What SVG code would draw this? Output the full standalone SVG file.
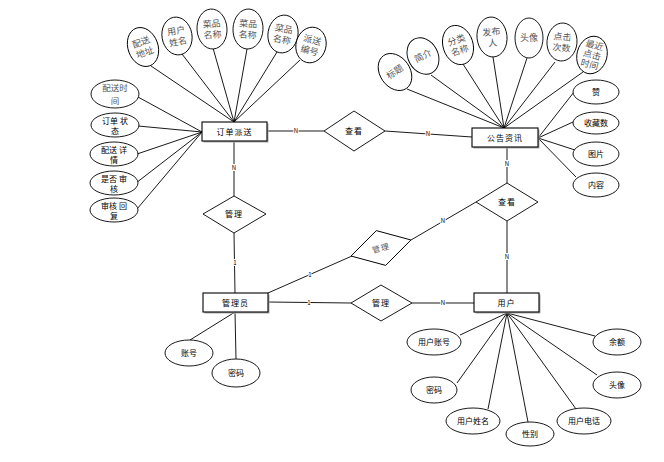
<svg xmlns="http://www.w3.org/2000/svg" width="664" height="462" viewBox="0 0 664 462">
<style>
text{font-family:"Noto Sans CJK SC","Liberation Sans",sans-serif;text-anchor:middle;fill:#000}
.ent rect.box{fill:#fff;stroke:#000;stroke-width:1.1}
.ent rect.sh{fill:#aaa;stroke:none}
.ent text{font-size:8px;letter-spacing:1px}
.attr ellipse,.rel polygon{fill:#fff;stroke:#000;stroke-width:0.9}
.attr text{font-size:8px}
.tall text{font-size:9px;fill:#555}
.grey{fill:#555}
.rel text{font-size:8px;letter-spacing:1px}
#connectors line{stroke:#000;stroke-width:0.9}
.card{font-size:6px;stroke:#fff;stroke-width:2px;paint-order:stroke;fill:#000}
</style>
<rect width="664" height="462" fill="#fff"/>
<g id="connectors">
<line x1="234" y1="122" x2="151" y2="66"/>
<line x1="234" y1="122" x2="182" y2="54"/>
<line x1="234" y1="122" x2="213" y2="48"/>
<line x1="234" y1="122" x2="247" y2="49"/>
<line x1="234" y1="122" x2="277" y2="52"/>
<line x1="234" y1="122" x2="300" y2="60"/>
<line x1="202" y1="132" x2="138" y2="97"/>
<line x1="202" y1="132" x2="138" y2="126"/>
<line x1="202" y1="132" x2="137" y2="154"/>
<line x1="202" y1="132" x2="136" y2="183"/>
<line x1="202" y1="132" x2="137" y2="209"/>
<line x1="504" y1="128" x2="407" y2="89"/>
<line x1="504" y1="128" x2="431" y2="75"/>
<line x1="504" y1="128" x2="463" y2="64"/>
<line x1="504" y1="128" x2="493" y2="57"/>
<line x1="504" y1="128" x2="527" y2="58"/>
<line x1="504" y1="128" x2="555" y2="62"/>
<line x1="504" y1="128" x2="583" y2="72"/>
<line x1="538" y1="138" x2="574" y2="92"/>
<line x1="538" y1="138" x2="573" y2="122"/>
<line x1="538" y1="138" x2="575" y2="150"/>
<line x1="538" y1="138" x2="576" y2="177"/>
<line x1="235" y1="312" x2="190" y2="340"/>
<line x1="235" y1="312" x2="236" y2="359"/>
<line x1="507" y1="313" x2="460" y2="335"/>
<line x1="507" y1="313" x2="457" y2="383"/>
<line x1="507" y1="313" x2="488" y2="409"/>
<line x1="507" y1="313" x2="528" y2="422"/>
<line x1="507" y1="313" x2="576" y2="409"/>
<line x1="507" y1="313" x2="595" y2="336"/>
<line x1="507" y1="313" x2="597" y2="375"/>
<line x1="267" y1="131" x2="324" y2="131"/>
<line x1="385" y1="131" x2="472" y2="137"/>
<line x1="234" y1="141" x2="234" y2="196"/>
<line x1="234" y1="233" x2="235" y2="293"/>
<line x1="507" y1="147" x2="507" y2="183"/>
<line x1="507" y1="221" x2="507" y2="293"/>
<line x1="268" y1="293" x2="352" y2="256"/>
<line x1="411" y1="240" x2="476" y2="202"/>
<line x1="268" y1="302" x2="351" y2="303"/>
<line x1="412" y1="303" x2="474" y2="303"/>
<text class="card" x="296" y="133">N</text>
<text class="card" x="428" y="136">N</text>
<text class="card" x="234" y="170">N</text>
<text class="card" x="235" y="265">1</text>
<text class="card" x="507" y="166">N</text>
<text class="card" x="507" y="259">N</text>
<text class="card" x="310" y="277">1</text>
<text class="card" x="443" y="223">N</text>
<text class="card" x="309" y="305">1</text>
<text class="card" x="443" y="305">N</text>
</g>
<g id="order" class="ent"><rect class="sh" x="203.5" y="123.5" width="65" height="19"/><rect class="box" x="202" y="122" width="65" height="19"/><text x="234.5" y="134.5">订单派送</text></g>
<g id="notice" class="ent"><rect class="sh" x="473.5" y="129.5" width="66" height="19"/><rect class="box" x="472" y="128" width="66" height="19"/><text x="505" y="140.5">公告资讯</text></g>
<g id="admin" class="ent"><rect class="sh" x="204.5" y="294.5" width="65" height="19"/><rect class="box" x="203" y="293" width="65" height="19"/><text x="235.5" y="305.5">管理员</text></g>
<g id="user" class="ent"><rect class="sh" x="475.5" y="294.5" width="65" height="19"/><rect class="box" x="474" y="293" width="65" height="19"/><text x="506.5" y="305.5">用户</text></g>
<g id="rel-view1" class="rel"><polygon points="354,111 385,131 354,151 324,131"/><text x="354" y="134">查看</text></g>
<g id="rel-manage1" class="rel"><polygon points="234,196 266,214 234,233 203,214"/><text x="234" y="217">管理</text></g>
<g id="rel-view2" class="rel"><polygon points="507,183 538,202 507,221 476,202"/><text x="507" y="205">查看</text></g>
<g id="rel-manage2" class="rel" transform="translate(381,248) rotate(-15)"><polygon points="0,-18 31,0 0,18 -31,0"/><text class="grey" x="0" y="3">管理</text></g>
<g id="rel-manage3" class="rel"><polygon points="381,285 412,303 381,321 351,303"/><text x="381" y="306">管理</text></g>
<g id="a-addr" class="attr tall" transform="translate(143,47) rotate(-20)"><ellipse rx="15" ry="20"/><text y="-2">配送</text><text y="9">地址</text></g>
<g id="a-uname" class="attr tall" transform="translate(177,36) rotate(-10)"><ellipse rx="15" ry="19"/><text y="-2">用户</text><text y="9">姓名</text></g>
<g id="a-dish1" class="attr tall" transform="translate(212,29) rotate(-4)"><ellipse rx="15" ry="20"/><text y="-2">菜品</text><text y="9">名称</text></g>
<g id="a-dish2" class="attr tall" transform="translate(248,29) rotate(3)"><ellipse rx="15" ry="20"/><text y="-2">菜品</text><text y="9">名称</text></g>
<g id="a-dish3" class="attr tall" transform="translate(283,34) rotate(10)"><ellipse rx="15" ry="19"/><text y="-2">菜品</text><text y="9">名称</text></g>
<g id="a-sendno" class="attr tall" transform="translate(311,45) rotate(15)"><ellipse rx="15" ry="18"/><text y="-2">派送</text><text y="9">编号</text></g>
<g id="a-time" class="attr"><ellipse cx="115" cy="94" rx="24" ry="14"/><text class="grey" x="115" y="91" style="font-size:8.5px">配送时</text><text class="grey" x="115" y="103.5" style="font-size:8.5px">间</text></g>
<g id="a-status" class="attr"><ellipse cx="115" cy="125" rx="24" ry="12"/><text x="115" y="123.5">订单 状</text><text x="115" y="133.5">态</text></g>
<g id="a-detail" class="attr"><ellipse cx="114" cy="154" rx="24" ry="12"/><text x="114" y="152.5">配送 详</text><text x="114" y="162.5">情</text></g>
<g id="a-audit" class="attr"><ellipse cx="114" cy="183" rx="24" ry="12"/><text x="114" y="181.5">是否 审</text><text x="114" y="191.5">核</text></g>
<g id="a-reply" class="attr"><ellipse cx="114" cy="210" rx="24" ry="12"/><text x="114" y="208.5">审核 回</text><text x="114" y="218.5">复</text></g>
<g id="a-title" class="attr tall" transform="translate(395,72) rotate(-35)"><ellipse rx="15" ry="20"/><text y="3">标题</text></g>
<g id="a-intro" class="attr tall" transform="translate(423,56) rotate(-28)"><ellipse rx="15" ry="19"/><text y="3">简介</text></g>
<g id="a-cat" class="attr tall" transform="translate(458,45) rotate(-18)"><ellipse rx="15" ry="20"/><text y="-2">分类</text><text y="9">名称</text></g>
<g id="a-pub" class="attr tall" transform="translate(492,37) rotate(-6)"><ellipse rx="15" ry="20"/><text y="-2">发布</text><text y="9">人</text></g>
<g id="a-avatar1" class="attr tall" transform="translate(529,38)"><ellipse rx="14" ry="20"/><text y="3">头像</text></g>
<g id="a-clicks" class="attr tall" transform="translate(562,42) rotate(5)"><ellipse rx="15" ry="19"/><text y="-2">点击</text><text y="9">次数</text></g>
<g id="a-lastclick" class="attr tall" transform="translate(592,55) rotate(15)"><ellipse rx="15" ry="19"/><text y="-7">最近</text><text y="3">点击</text><text y="13">时间</text></g>
<g id="a-like" class="attr"><ellipse cx="596" cy="92" rx="23" ry="12"/><text x="596" y="95">赞</text></g>
<g id="a-fav" class="attr"><ellipse cx="596" cy="123" rx="23" ry="11"/><text x="596" y="126">收藏数</text></g>
<g id="a-pic" class="attr"><ellipse cx="596" cy="154" rx="23" ry="12"/><text x="596" y="157">图片</text></g>
<g id="a-content" class="attr"><ellipse cx="596" cy="185" rx="23" ry="12"/><text x="596" y="188">内容</text></g>
<g id="a-acc" class="attr"><ellipse cx="189" cy="353" rx="24" ry="13"/><text x="189" y="356">账号</text></g>
<g id="a-pwd" class="attr"><ellipse cx="236" cy="373" rx="24" ry="14"/><text x="236" y="376">密码</text></g>
<g id="a-uacc" class="attr"><ellipse cx="434" cy="342" rx="27" ry="13"/><text x="434" y="345">用户账号</text></g>
<g id="a-upwd" class="attr"><ellipse cx="434" cy="390" rx="23" ry="13"/><text x="434" y="393">密码</text></g>
<g id="a-uname2" class="attr"><ellipse cx="473" cy="421" rx="27" ry="13"/><text x="473" y="424">用户姓名</text></g>
<g id="a-sex" class="attr"><ellipse cx="530" cy="434" rx="24" ry="12"/><text x="530" y="437">性别</text></g>
<g id="a-phone" class="attr"><ellipse cx="584" cy="421" rx="27" ry="13"/><text x="584" y="424">用户电话</text></g>
<g id="a-balance" class="attr"><ellipse cx="617" cy="342" rx="24" ry="13"/><text x="617" y="345">余额</text></g>
<g id="a-avatar2" class="attr"><ellipse cx="617" cy="385" rx="24" ry="13"/><text x="617" y="388">头像</text></g>
</svg>
